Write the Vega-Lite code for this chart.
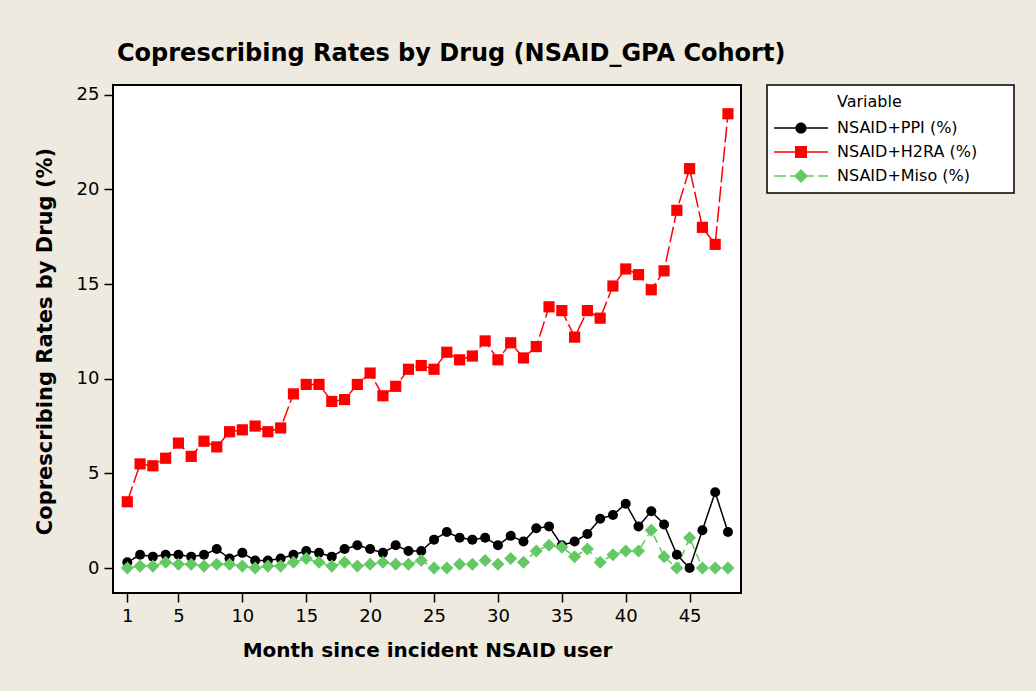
{
  "$schema": "https://vega.github.io/schema/vega-lite/v6.json",
  "width": 628,
  "height": 508,
  "autosize": {"type": "none"},
  "padding": {"left": 113, "top": 85, "right": 295, "bottom": 98},
  "background": "#EEEAE0",
  "title": {"text": "Coprescribing Rates by Drug (NSAID_GPA Cohort)", "anchor": "start", "frame": "group", "dx": 4, "offset": 18, "font": "DejaVu Sans", "fontSize": 24, "fontWeight": "bold", "color": "black"},
  "config": {
    "view": {"stroke": "black", "strokeWidth": 2, "fill": "white"},
    "axis": {"domain": false, "grid": false, "ticks": true, "tickColor": "black", "tickSize": 9, "tickWidth": 1.5, "labelFont": "DejaVu Sans", "labelFontSize": 18, "labelColor": "black", "labelPadding": 5, "labelFlush": false, "labelOverlap": false, "titleFont": "DejaVu Sans", "titleFontSize": 20, "titleFontWeight": "bold", "titleColor": "black"},
    "legend": {"orient": "none", "legendX": 654, "legendY": 0, "fillColor": "white", "strokeColor": "black", "padding": 9,
      "titleFont": "DejaVu Sans", "titleFontSize": 16, "titleFontWeight": "normal", "titleColor": "black", "titlePadding": 10,
      "labelFont": "DejaVu Sans", "labelFontSize": 16, "labelColor": "black", "symbolSize": 196, "symbolOffset": 17, "labelOffset": 28, "rowPadding": 8, "symbolStrokeWidth": 0}
  },
  "data": {"values": [
    {"m":1,"s":"NSAID+PPI (%)","v":0.3},{"m":2,"s":"NSAID+PPI (%)","v":0.7},{"m":3,"s":"NSAID+PPI (%)","v":0.6},{"m":4,"s":"NSAID+PPI (%)","v":0.7},{"m":5,"s":"NSAID+PPI (%)","v":0.7},{"m":6,"s":"NSAID+PPI (%)","v":0.6},{"m":7,"s":"NSAID+PPI (%)","v":0.7},{"m":8,"s":"NSAID+PPI (%)","v":1.0},{"m":9,"s":"NSAID+PPI (%)","v":0.5},{"m":10,"s":"NSAID+PPI (%)","v":0.8},{"m":11,"s":"NSAID+PPI (%)","v":0.4},{"m":12,"s":"NSAID+PPI (%)","v":0.4},{"m":13,"s":"NSAID+PPI (%)","v":0.5},{"m":14,"s":"NSAID+PPI (%)","v":0.7},{"m":15,"s":"NSAID+PPI (%)","v":0.9},{"m":16,"s":"NSAID+PPI (%)","v":0.8},{"m":17,"s":"NSAID+PPI (%)","v":0.6},{"m":18,"s":"NSAID+PPI (%)","v":1.0},{"m":19,"s":"NSAID+PPI (%)","v":1.2},{"m":20,"s":"NSAID+PPI (%)","v":1.0},{"m":21,"s":"NSAID+PPI (%)","v":0.8},{"m":22,"s":"NSAID+PPI (%)","v":1.2},{"m":23,"s":"NSAID+PPI (%)","v":0.9},{"m":24,"s":"NSAID+PPI (%)","v":0.9},{"m":25,"s":"NSAID+PPI (%)","v":1.5},{"m":26,"s":"NSAID+PPI (%)","v":1.9},{"m":27,"s":"NSAID+PPI (%)","v":1.6},{"m":28,"s":"NSAID+PPI (%)","v":1.5},{"m":29,"s":"NSAID+PPI (%)","v":1.6},{"m":30,"s":"NSAID+PPI (%)","v":1.2},{"m":31,"s":"NSAID+PPI (%)","v":1.7},{"m":32,"s":"NSAID+PPI (%)","v":1.4},{"m":33,"s":"NSAID+PPI (%)","v":2.1},{"m":34,"s":"NSAID+PPI (%)","v":2.2},{"m":35,"s":"NSAID+PPI (%)","v":1.2},{"m":36,"s":"NSAID+PPI (%)","v":1.4},{"m":37,"s":"NSAID+PPI (%)","v":1.8},{"m":38,"s":"NSAID+PPI (%)","v":2.6},{"m":39,"s":"NSAID+PPI (%)","v":2.8},{"m":40,"s":"NSAID+PPI (%)","v":3.4},{"m":41,"s":"NSAID+PPI (%)","v":2.2},{"m":42,"s":"NSAID+PPI (%)","v":3.0},{"m":43,"s":"NSAID+PPI (%)","v":2.3},{"m":44,"s":"NSAID+PPI (%)","v":0.7},{"m":45,"s":"NSAID+PPI (%)","v":0.0},{"m":46,"s":"NSAID+PPI (%)","v":2.0},{"m":47,"s":"NSAID+PPI (%)","v":4.0},{"m":48,"s":"NSAID+PPI (%)","v":1.9},
    {"m":1,"s":"NSAID+H2RA (%)","v":3.5},{"m":2,"s":"NSAID+H2RA (%)","v":5.5},{"m":3,"s":"NSAID+H2RA (%)","v":5.4},{"m":4,"s":"NSAID+H2RA (%)","v":5.8},{"m":5,"s":"NSAID+H2RA (%)","v":6.6},{"m":6,"s":"NSAID+H2RA (%)","v":5.9},{"m":7,"s":"NSAID+H2RA (%)","v":6.7},{"m":8,"s":"NSAID+H2RA (%)","v":6.4},{"m":9,"s":"NSAID+H2RA (%)","v":7.2},{"m":10,"s":"NSAID+H2RA (%)","v":7.3},{"m":11,"s":"NSAID+H2RA (%)","v":7.5},{"m":12,"s":"NSAID+H2RA (%)","v":7.2},{"m":13,"s":"NSAID+H2RA (%)","v":7.4},{"m":14,"s":"NSAID+H2RA (%)","v":9.2},{"m":15,"s":"NSAID+H2RA (%)","v":9.7},{"m":16,"s":"NSAID+H2RA (%)","v":9.7},{"m":17,"s":"NSAID+H2RA (%)","v":8.8},{"m":18,"s":"NSAID+H2RA (%)","v":8.9},{"m":19,"s":"NSAID+H2RA (%)","v":9.7},{"m":20,"s":"NSAID+H2RA (%)","v":10.3},{"m":21,"s":"NSAID+H2RA (%)","v":9.1},{"m":22,"s":"NSAID+H2RA (%)","v":9.6},{"m":23,"s":"NSAID+H2RA (%)","v":10.5},{"m":24,"s":"NSAID+H2RA (%)","v":10.7},{"m":25,"s":"NSAID+H2RA (%)","v":10.5},{"m":26,"s":"NSAID+H2RA (%)","v":11.4},{"m":27,"s":"NSAID+H2RA (%)","v":11.0},{"m":28,"s":"NSAID+H2RA (%)","v":11.2},{"m":29,"s":"NSAID+H2RA (%)","v":12.0},{"m":30,"s":"NSAID+H2RA (%)","v":11.0},{"m":31,"s":"NSAID+H2RA (%)","v":11.9},{"m":32,"s":"NSAID+H2RA (%)","v":11.1},{"m":33,"s":"NSAID+H2RA (%)","v":11.7},{"m":34,"s":"NSAID+H2RA (%)","v":13.8},{"m":35,"s":"NSAID+H2RA (%)","v":13.6},{"m":36,"s":"NSAID+H2RA (%)","v":12.2},{"m":37,"s":"NSAID+H2RA (%)","v":13.6},{"m":38,"s":"NSAID+H2RA (%)","v":13.2},{"m":39,"s":"NSAID+H2RA (%)","v":14.9},{"m":40,"s":"NSAID+H2RA (%)","v":15.8},{"m":41,"s":"NSAID+H2RA (%)","v":15.5},{"m":42,"s":"NSAID+H2RA (%)","v":14.7},{"m":43,"s":"NSAID+H2RA (%)","v":15.7},{"m":44,"s":"NSAID+H2RA (%)","v":18.9},{"m":45,"s":"NSAID+H2RA (%)","v":21.1},{"m":46,"s":"NSAID+H2RA (%)","v":18.0},{"m":47,"s":"NSAID+H2RA (%)","v":17.1},{"m":48,"s":"NSAID+H2RA (%)","v":24.0},
    {"m":1,"s":"NSAID+Miso (%)","v":0.0},{"m":2,"s":"NSAID+Miso (%)","v":0.1},{"m":3,"s":"NSAID+Miso (%)","v":0.1},{"m":4,"s":"NSAID+Miso (%)","v":0.3},{"m":5,"s":"NSAID+Miso (%)","v":0.2},{"m":6,"s":"NSAID+Miso (%)","v":0.2},{"m":7,"s":"NSAID+Miso (%)","v":0.1},{"m":8,"s":"NSAID+Miso (%)","v":0.2},{"m":9,"s":"NSAID+Miso (%)","v":0.2},{"m":10,"s":"NSAID+Miso (%)","v":0.1},{"m":11,"s":"NSAID+Miso (%)","v":0.0},{"m":12,"s":"NSAID+Miso (%)","v":0.1},{"m":13,"s":"NSAID+Miso (%)","v":0.1},{"m":14,"s":"NSAID+Miso (%)","v":0.3},{"m":15,"s":"NSAID+Miso (%)","v":0.5},{"m":16,"s":"NSAID+Miso (%)","v":0.3},{"m":17,"s":"NSAID+Miso (%)","v":0.1},{"m":18,"s":"NSAID+Miso (%)","v":0.3},{"m":19,"s":"NSAID+Miso (%)","v":0.1},{"m":20,"s":"NSAID+Miso (%)","v":0.2},{"m":21,"s":"NSAID+Miso (%)","v":0.3},{"m":22,"s":"NSAID+Miso (%)","v":0.2},{"m":23,"s":"NSAID+Miso (%)","v":0.2},{"m":24,"s":"NSAID+Miso (%)","v":0.4},{"m":25,"s":"NSAID+Miso (%)","v":0.0},{"m":26,"s":"NSAID+Miso (%)","v":0.0},{"m":27,"s":"NSAID+Miso (%)","v":0.2},{"m":28,"s":"NSAID+Miso (%)","v":0.2},{"m":29,"s":"NSAID+Miso (%)","v":0.4},{"m":30,"s":"NSAID+Miso (%)","v":0.2},{"m":31,"s":"NSAID+Miso (%)","v":0.5},{"m":32,"s":"NSAID+Miso (%)","v":0.3},{"m":33,"s":"NSAID+Miso (%)","v":0.9},{"m":34,"s":"NSAID+Miso (%)","v":1.2},{"m":35,"s":"NSAID+Miso (%)","v":1.1},{"m":36,"s":"NSAID+Miso (%)","v":0.6},{"m":37,"s":"NSAID+Miso (%)","v":1.0},{"m":38,"s":"NSAID+Miso (%)","v":0.3},{"m":39,"s":"NSAID+Miso (%)","v":0.7},{"m":40,"s":"NSAID+Miso (%)","v":0.9},{"m":41,"s":"NSAID+Miso (%)","v":0.9},{"m":42,"s":"NSAID+Miso (%)","v":2.0},{"m":43,"s":"NSAID+Miso (%)","v":0.6},{"m":44,"s":"NSAID+Miso (%)","v":0.0},{"m":45,"s":"NSAID+Miso (%)","v":1.6},{"m":46,"s":"NSAID+Miso (%)","v":0.0},{"m":47,"s":"NSAID+Miso (%)","v":0.0},{"m":48,"s":"NSAID+Miso (%)","v":0.0}
  ]},
  "encoding": {
    "x": {"field": "m", "type": "quantitative", "scale": {"domain": [-0.12, 49.02], "nice": false, "zero": false},
          "axis": {"values": [1,5,10,15,20,25,30,35,40,45], "title": "Month since incident NSAID user", "titleY": 57, "titleBaseline": "middle"}},
    "y": {"field": "v", "type": "quantitative", "scale": {"domain": [-1.32, 25.52], "nice": false, "zero": false},
          "axis": {"values": [0,5,10,15,20,25], "title": "Coprescribing Rates by Drug (%)", "titleFontSize": 21, "titleX": -68, "titleY": 256, "titleAngle": -90, "titleBaseline": "middle", "titleAlign": "center"}},
    "color": {"field": "s", "type": "nominal",
      "scale": {"domain": ["NSAID+PPI (%)", "NSAID+H2RA (%)", "NSAID+Miso (%)"], "range": ["#000000", "#FF0000", "#64C864"]},
      "legend": {"title": "Variable", "encode": {"legend": {"update": {"strokeWidth": {"value": 1.5}}}, "title": {"update": {"dx": {"value": 61}}}}}}
  },
  "layer": [
    {"mark": {"type": "line", "strokeWidth": 1.5},
     "encoding": {"strokeDash": {"field": "s", "type": "nominal", "scale": {"domain": ["NSAID+PPI (%)", "NSAID+H2RA (%)", "NSAID+Miso (%)"], "range": [[1, 0], [16, 4], [8, 5]]}, "legend": null}}},
    {"transform": [{"filter": {"field": "s", "equal": "NSAID+PPI (%)"}}],
     "mark": {"type": "point", "shape": "circle", "size": 100, "filled": true, "opacity": 1, "strokeWidth": 0}},
    {"transform": [{"filter": {"field": "s", "equal": "NSAID+H2RA (%)"}}],
     "mark": {"type": "point", "shape": "square", "size": 125, "filled": true, "opacity": 1, "strokeWidth": 0}},
    {"transform": [{"filter": {"field": "s", "equal": "NSAID+Miso (%)"}}],
     "mark": {"type": "point", "shape": "diamond", "size": 170, "filled": true, "opacity": 1, "strokeWidth": 0}},
    {"transform": [{"filter": "false"}],
     "mark": {"type": "point", "filled": true, "opacity": 1, "strokeWidth": 0, "size": 196},
     "encoding": {
       "shape": {"field": "s", "type": "nominal",
         "scale": {"domain": ["NSAID+PPI (%)", "NSAID+H2RA (%)", "NSAID+Miso (%)"],
                   "range": ["M-3.86,-0.1H-0.8V0.1H-3.86Z M0.8,-0.1H3.86V0.1H0.8Z M-0.8,0A0.8,0.8 0 1,1 0.8,0A0.8,0.8 0 1,1 -0.8,0Z M29.1,0",
                             "M-3.86,-0.1H-0.86V0.1H-3.86Z M0.86,-0.1H3.86V0.1H0.86Z M-0.86,-0.86H0.86V0.86H-0.86Z M29.1,0",
                             "M-3.86,-0.1H-2.14V0.1H-3.86Z M-1.57,-0.1H-0.9V0.1H-1.57Z M0.9,-0.1H1.86V0.1H0.9Z M2.43,-0.1H3.86V0.1H2.43Z M0,-1L1,0L0,1L-1,0Z M29.1,0"]},
         "legend": {"title": "Variable", "encode": {"legend": {"update": {"strokeWidth": {"value": 1.5}}}, "title": {"update": {"dx": {"value": 61}}}}}}
     }}
  ]
}
